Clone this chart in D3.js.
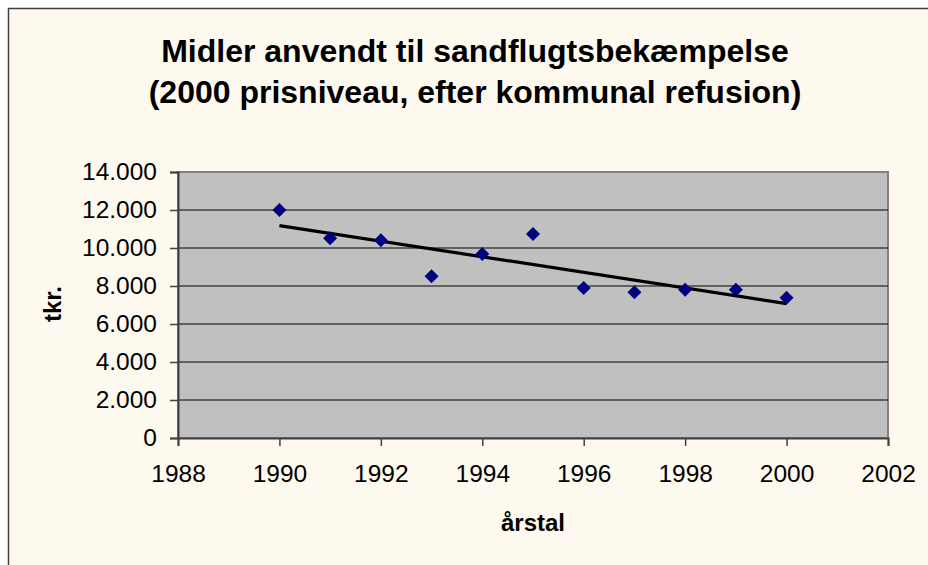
<!DOCTYPE html>
<html><head><meta charset="utf-8">
<script src="https://cdn.jsdelivr.net/npm/d3@7"></script>
<style>body{margin:0;background:#fff}svg{display:block}text{font-family:"Liberation Sans",Arial,sans-serif}</style>
</head><body>
<svg id="c" width="928" height="565"></svg>
<script>
const years = [1990,1991,1992,1993,1994,1995,1996,1997,1998,1999,2000];
const values = [12000,10510,10405,8510,9684,10737,7895,7668,7805,7805,7384];
const xTicks = [1988,1990,1992,1994,1996,1998,2000,2002];
const yTicks = [0,2000,4000,6000,8000,10000,12000,14000];
const titleLines = ["Midler anvendt til sandflugtsbekæmpelse","(2000 prisniveau, efter kommunal refusion)"];

const svg = d3.select("#c");
svg.append("rect").attr("x",8.5).attr("y",8.5).attr("width",940).attr("height",600)
  .attr("fill","#FEF9EF").attr("stroke","#404040").attr("stroke-width",1.5);

const L=178,R=888,T=172,B=438;
const x = d3.scaleLinear().domain([1988,2002]).range([L,R]);
const y = d3.scaleLinear().domain([0,14000]).range([B,T]);

svg.append("rect").attr("x",L).attr("y",T).attr("width",R-L).attr("height",B-T)
  .attr("fill","#C0C0C0").attr("stroke","#808080").attr("stroke-width",2);

svg.append("g").selectAll("line").data(yTicks.filter(d=>d>0&&d<14000)).join("line")
  .attr("x1",L).attr("x2",R).attr("y1",d=>y(d)).attr("y2",d=>y(d))
  .attr("stroke","#000").attr("stroke-width",1);

const fmt = d => d3.format(",")(d).replace(/,/g,".");
const ya = svg.append("g").attr("transform",`translate(${L},0)`)
  .call(d3.axisLeft(y).tickValues(yTicks).tickFormat(fmt).tickSize(8).tickPadding(13));
const xa = svg.append("g").attr("transform",`translate(0,${B})`)
  .call(d3.axisBottom(x).tickValues(xTicks).tickFormat(d3.format("d")).tickSize(8).tickPadding(19));
[ya,xa].forEach(g=>{
  g.select(".domain").attr("stroke","#404040").attr("stroke-width",2);
  g.selectAll(".tick line").attr("stroke","#404040").attr("stroke-width",1.5);
  g.selectAll("text").attr("font-size",24.5).attr("fill","#000").style("font-family","'Liberation Sans',Arial,sans-serif");
});

// least-squares trendline
const mx = d3.mean(years), my = d3.mean(values);
const slope = d3.sum(years,(d,i)=>(d-mx)*(values[i]-my))/d3.sum(years,d=>(d-mx)**2);
const icpt = my - slope*mx;
const ends = [years[0], years[years.length-1]];
svg.append("line").attr("x1",x(ends[0])).attr("y1",y(icpt+slope*ends[0]))
  .attr("x2",x(ends[1])).attr("y2",y(icpt+slope*ends[1]))
  .attr("stroke","#000").attr("stroke-width",3.2);

svg.append("g").selectAll("path").data(years).join("path")
  .attr("transform",(d,i)=>`translate(${x(d)},${y(values[i])})`)
  .attr("d","M0,-7L7,0L0,7L-7,0Z").attr("fill","#000080");

svg.append("g").selectAll("text").data(titleLines).join("text")
  .attr("x",475).attr("y",(d,i)=>62+i*40.5).attr("text-anchor","middle")
  .attr("font-size",32).attr("font-weight","bold").text(d=>d);

svg.append("text").attr("transform","translate(61,304) rotate(-90)").attr("text-anchor","middle")
  .attr("font-size",24).attr("font-weight","bold").text("tkr.");
svg.append("text").attr("x",533).attr("y",531).attr("text-anchor","middle")
  .attr("font-size",24).attr("font-weight","bold").text("årstal");
</script>
</body></html>
